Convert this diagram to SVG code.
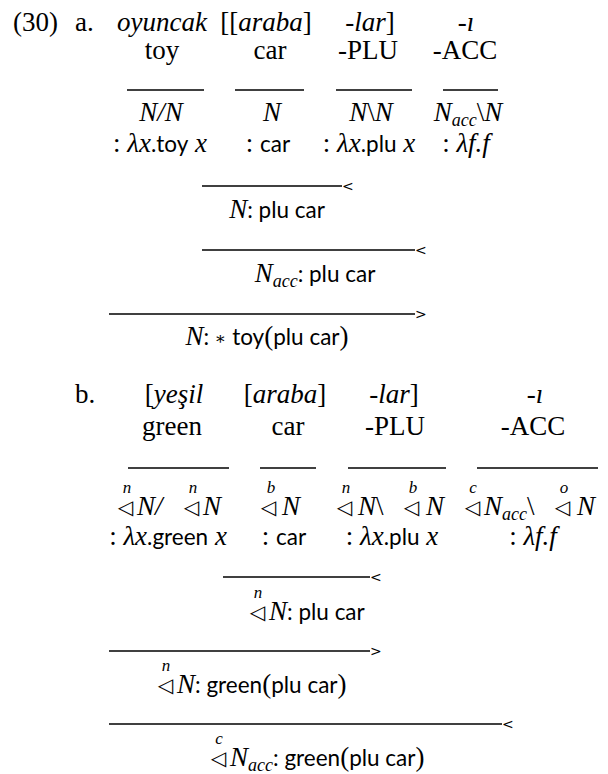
<svg xmlns="http://www.w3.org/2000/svg" width="608" height="774" viewBox="0 0 608 774">
<style>
text{fill:#000}
.rm{font-family:"Liberation Serif",serif;font-size:27px;font-style:normal}
.it{font-family:"Liberation Serif",serif;font-size:27px;font-style:italic}
.sf{font-family:Lato,"Liberation Sans",sans-serif;font-size:22.5px;font-style:normal}
.sb{font-family:"Liberation Serif",serif;font-size:18px;font-style:italic}
.sp{font-family:"Liberation Serif",serif;font-size:17px;font-style:italic;text-anchor:middle}
.tri{font-family:"DejaVu Sans",sans-serif;font-size:20px}
.ast{font-family:"DejaVu Serif",serif;font-size:17px;font-style:normal}
.mk{font-family:"DejaVu Sans",sans-serif;font-size:14px}
.c{text-anchor:middle}
line{stroke:#000;stroke-width:1.4}
</style>

<!-- ===== Part a ===== -->
<g id="label-30"><text class="rm" x="13" y="31">(30)</text></g>
<g id="label-a"><text class="rm" x="75" y="31">a.</text></g>

<g id="a-oyuncak">
<text class="it c" x="162" y="31">oyuncak</text>
<text class="rm c" x="162" y="59">toy</text>
<text class="it c" x="161" y="121">N/N</text>
<text class="rm c" x="160" y="152">:<tspan class="it"> λx</tspan><tspan class="sf">.toy</tspan><tspan class="it"> x</tspan></text>
</g>

<g id="a-araba">
<text class="rm c" x="266" y="31">[[<tspan class="it">araba</tspan>]</text>
<text class="rm c" x="270" y="59">car</text>
<text class="it c" x="272" y="121">N</text>
<text class="rm c" x="268" y="152">: <tspan class="sf">car</tspan></text>
</g>

<g id="a-lar">
<text class="rm c" x="370" y="31"><tspan class="it">-lar</tspan>]</text>
<text class="rm c" x="368" y="59">-PLU</text>
<text class="it c" x="371" y="121">N<tspan class="rm">\</tspan>N</text>
<text class="rm c" x="369" y="152">:<tspan class="it"> λx</tspan><tspan class="sf">.plu</tspan><tspan class="it"> x</tspan></text>
</g>

<g id="a-acc">
<text class="it c" x="466" y="31">-ı</text>
<text class="rm c" x="465" y="59">-ACC</text>
<text class="it c" x="468" y="121">N<tspan class="sb" dy="5">acc</tspan><tspan class="rm" dy="-5">\</tspan>N</text>
<text class="rm c" x="466" y="152">:<tspan class="it"> λf.f</tspan></text>
</g>

<g id="a-step1">
<text class="it c" x="277" y="218">N<tspan class="sf">: plu car</tspan></text>
</g>
<g id="a-step2">
<text class="it c" x="315" y="282">N<tspan class="sb" dy="5">acc</tspan><tspan class="sf" dy="-5">: plu car</tspan></text>
</g>
<g id="a-step3">
<text class="it c" x="267" y="345">N<tspan class="sf">: </tspan><tspan class="ast" dy="-1">∗</tspan><tspan class="sf" dy="1"> toy</tspan><tspan class="rm">(</tspan><tspan class="sf">plu car</tspan><tspan class="rm">)</tspan></text>
</g>

<!-- ===== Part b ===== -->
<g id="label-b"><text class="rm" x="75" y="403">b.</text></g>

<g id="b-yesil">
<text class="rm c" x="174" y="403">[<tspan class="it">yeşil</tspan></text>
<text class="rm c" x="172" y="435">green</text>
<text class="tri" x="118" y="514">◁</text><text class="sp" x="127" y="493">n</text>
<text class="it" x="137" y="515">N/</text>
<text class="tri" x="184" y="514">◁</text><text class="sp" x="193" y="493">n</text>
<text class="it" x="203" y="515">N</text>
<text class="rm c" x="168" y="545">:<tspan class="it"> λx</tspan><tspan class="sf">.green</tspan><tspan class="it"> x</tspan></text>
</g>

<g id="b-araba">
<text class="rm c" x="285" y="403">[<tspan class="it">araba</tspan>]</text>
<text class="rm c" x="288" y="435">car</text>
<text class="tri" x="261" y="514">◁</text><text class="sp" x="271" y="493">b</text>
<text class="it" x="282" y="515">N</text>
<text class="rm c" x="284" y="545">: <tspan class="sf">car</tspan></text>
</g>

<g id="b-lar">
<text class="rm c" x="394" y="403"><tspan class="it">-lar</tspan>]</text>
<text class="rm c" x="395" y="435">-PLU</text>
<text class="tri" x="337" y="514">◁</text><text class="sp" x="346" y="493">n</text>
<text class="it" x="358" y="515">N<tspan class="rm">\</tspan></text>
<text class="tri" x="404" y="514">◁</text><text class="sp" x="413" y="493">b</text>
<text class="it" x="426" y="515">N</text>
<text class="rm c" x="392" y="545">:<tspan class="it"> λx</tspan><tspan class="sf">.plu</tspan><tspan class="it"> x</tspan></text>
</g>

<g id="b-acc">
<text class="it c" x="535" y="403">-ı</text>
<text class="rm c" x="533" y="435">-ACC</text>
<text class="tri" x="465" y="514">◁</text><text class="sp" x="473" y="493">c</text>
<text class="it" x="484" y="515">N<tspan class="sb" dy="5">acc</tspan><tspan class="rm" dy="-5">\</tspan></text>
<text class="tri" x="555" y="514">◁</text><text class="sp" x="564" y="493">o</text>
<text class="it" x="577" y="515">N</text>
<text class="rm c" x="533" y="545">:<tspan class="it"> λf.f</tspan></text>
</g>

<g id="b-step1">
<text class="tri" x="250" y="619">◁</text><text class="sp" x="258" y="598">n</text>
<text class="it" x="269" y="620">N<tspan class="sf">: plu car</tspan></text>
</g>
<g id="b-step2">
<text class="tri" x="158" y="692">◁</text><text class="sp" x="166" y="671">n</text>
<text class="it" x="177" y="693">N<tspan class="sf">: green</tspan><tspan class="rm">(</tspan><tspan class="sf">plu car</tspan><tspan class="rm">)</tspan></text>
</g>
<g id="b-step3">
<text class="tri" x="211" y="765">◁</text><text class="sp" x="219" y="744">c</text>
<text class="it" x="230" y="766">N<tspan class="sb" dy="5">acc</tspan><tspan class="sf" dy="-5">: green</tspan><tspan class="rm">(</tspan><tspan class="sf">plu car</tspan><tspan class="rm">)</tspan></text>
</g>

<!-- ===== Connectors (rule lines) ===== -->
<g id="connectors">
<line x1="127" y1="90" x2="204" y2="90"/>
<line x1="235" y1="90" x2="304" y2="90"/>
<line x1="336" y1="90" x2="412" y2="90"/>
<line x1="443" y1="90" x2="498" y2="90"/>
<line x1="202" y1="186" x2="342" y2="186"/>
<text class="mk" x="342" y="191">&lt;</text>
<line x1="202" y1="250" x2="415" y2="250"/>
<text class="mk" x="415" y="255">&lt;</text>
<line x1="109" y1="314" x2="415" y2="314"/>
<text class="mk" x="415" y="319">&gt;</text>

<line x1="128" y1="468" x2="229" y2="468"/>
<line x1="260" y1="468" x2="316" y2="468"/>
<line x1="348" y1="468" x2="446" y2="468"/>
<line x1="477" y1="468" x2="598" y2="468"/>
<line x1="223" y1="577" x2="370" y2="577"/>
<text class="mk" x="370" y="582">&lt;</text>
<line x1="109" y1="651" x2="370" y2="651"/>
<text class="mk" x="370" y="656">&gt;</text>
<line x1="109" y1="724" x2="502" y2="724"/>
<text class="mk" x="502" y="729">&lt;</text>
</g>
</svg>
